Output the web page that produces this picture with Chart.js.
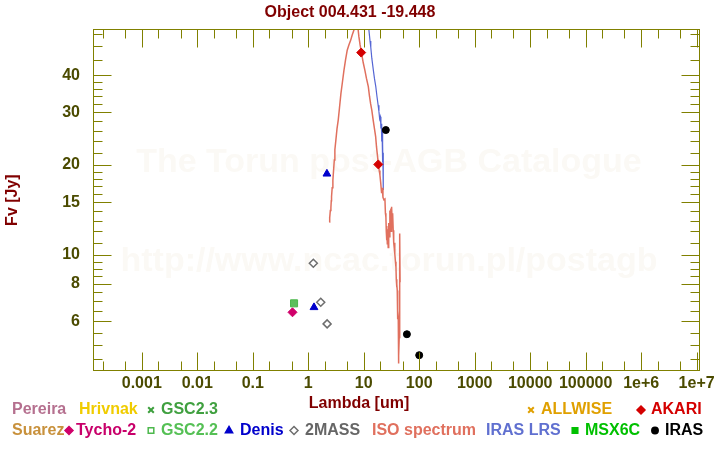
<!DOCTYPE html>
<html>
<head>
<meta charset="utf-8">
<script src="https://cdn.jsdelivr.net/npm/chart.js@4.4.1/dist/chart.umd.min.js"></script>
<style>
  body { margin: 0; background: #fff; }
  canvas { display: block; }
</style>
</head>
<body>
<canvas id="sedChart" width="720" height="450"></canvas>
<script>
// photometry, lambda in um, flux in Jy
const akariLambda = [9, 18.3]
const akariFlux = [47.6, 20.1]
const irasLambda = [25, 60, 100]
const irasFlux = [26.2, 5.43, 4.62]
const denisLambda = [1.27, 2.17]
const denisFlux = [6.68, 18.7]
const twomassLambda = [1.235, 1.68, 2.19]
const twomassFlux = [9.38, 6.95, 5.88]
const tychoLambda = [0.52]
const tychoFlux = [6.43]
const gsc22Lambda = [0.555]
const gsc22Flux = [6.89]
const gsc23Lambda = [0.555]
const gsc23Flux = [6.89]
const msxLambda = []
const msxFlux = []
const allwiseLambda = []
const allwiseFlux = []

// spectra
const isoLambda = [2.39, 2.41, 2.46, 2.5, 2.56, 2.6, 2.63, 2.7, 2.78, 2.86, 2.95, 3.02, 3.15, 3.3, 3.47, 3.65, 3.88, 4.1, 4.4, 4.7, 5.04, 5.4, 5.81, 6.2, 6.66, 7.0, 7.44, 7.8, 8.18, 8.6, 9.17, 9.8, 10.5, 11.2, 12.1, 12.7, 13.3, 14.0, 14.8, 15.6, 16.4, 17.0, 17.5, 18.2, 19.0, 19.6, 20.2, 21.0, 21.5, 22.2, 23.1, 24.1, 24.6, 25.1, 25.5, 25.8, 26.2, 26.6, 27.0, 27.6, 28.2, 28.8, 29.6, 30.2, 30.8, 31.3, 31.8, 32.5, 33.2, 34.0, 34.7, 35.4, 36.0, 36.6, 37.3, 38.1, 38.6, 39.2, 39.7, 40.2, 40.6, 40.9, 41.3, 41.9, 42.1, 42.4, 42.7, 43.1, 43.6, 44.0, 44.5, 44.9, 45.2]
const isoFlux = [12.9, 13.4, 13.3, 14.1, 14.4, 15.2, 15.7, 16.8, 17.8, 19.2, 20.8, 22.5, 24.3, 26.5, 28.3, 31.0, 34.7, 37.5, 41.5, 45.0, 48.5, 50.5, 52.3, 54.5, 56.6, 59.0, 60.0, 58.5, 53.8, 50.5, 47.2, 44.0, 41.5, 39.0, 36.6, 34.0, 32.1, 30.5, 28.3, 26.5, 24.9, 23.0, 21.9, 20.5, 19.2, 18.5, 17.5, 16.1, 16.8, 15.6, 15.3, 15.4, 13.8, 13.4, 12.0, 11.2, 12.5, 10.9, 12.2, 10.6, 12.8, 11.5, 14.1, 12.5, 14.3, 12.0, 14.5, 13.0, 13.8, 12.1, 11.0, 10.6, 11.0, 10.1, 9.5, 9.1, 8.3, 7.8, 8.0, 7.6, 6.8, 6.1, 6.5, 6.2, 5.0, 4.33, 5.2, 4.6, 5.3, 6.5, 9.0, 11.8, 8.1]
const lrsLambda = [11.0, 12.4, 13.0, 13.4, 14.0, 14.9, 15.6, 16.5, 17.3, 18.2, 18.8, 19.4, 20.0, 20.4, 20.8, 21.1, 21.4, 21.6, 21.8, 22.0, 22.2, 22.3, 22.4, 22.5, 22.6]
const lrsFlux = [66, 56.6, 52.0, 49.6, 45.5, 41.6, 39.0, 36.6, 34.0, 31.7, 30.2, 28.5, 29.0, 26.5, 27.5, 24.0, 26.0, 22.0, 25.5, 20.5, 23.5, 19.0, 22.0, 17.5, 16.5]

// axes
const xMin = 1.32e-4
const xMax = 1.15e7
const yMin = 4.09
const yMax = 57
const xMajorTicks = [1e-3, 1e-2, 0.1, 1, 10, 100, 1e3, 1e4, 1e5, 1e6, 1e7]
const xTickLabels = ['0.001', '0.01', '0.1', '1', '10', '100', '1000', '10000', '100000', '1e+6', '1e+7']
const xMinorTicks = [2e-4, 5e-4, 2e-3, 5e-3, 0.02, 0.05, 0.2, 0.5, 2, 5, 20, 50, 200, 500, 2e3, 5e3, 2e4, 5e4, 2e5, 5e5, 2e6, 5e6]
const yMajorTicks = [6, 8, 10, 15, 20, 30, 40]
const yTickLabels = ['6', '8', '10', '15', '20', '30', '40']
const yMinorTicks = [4.5, 5, 5.5, 6.5, 7, 7.5, 8.5, 9, 9.5, 11, 12, 13, 14, 16, 17, 18, 19, 22, 24, 26, 28, 32, 34, 36, 38, 45, 50, 55]

const fontFamily = "'Liberation Sans', Arial, sans-serif"
const olive = '#808000'
const tickText = '#4b4b00'
const maroon = '#800000'

const toPoints = (xs, ys) => xs.map((v, i) => ({ x: v, y: ys[i] }))

// where the legend entries sit (text x, marker x, row)
const legendLayout = [
  { label: 'Pereira', row: 0, tx: 12 },
  { label: 'Hrivnak', row: 0, tx: 79 },
  { label: 'GSC2.3', row: 0, tx: 161, mx: 151 },
  { label: 'ALLWISE', row: 0, tx: 541, mx: 531 },
  { label: 'AKARI', row: 0, tx: 651, mx: 641 },
  { label: 'Suarez', row: 1, tx: 12 },
  { label: 'Tycho-2', row: 1, tx: 76, mx: 69 },
  { label: 'GSC2.2', row: 1, tx: 161, mx: 151, open: true },
  { label: 'Denis', row: 1, tx: 240, mx: 229 },
  { label: '2MASS', row: 1, tx: 305, mx: 294, open: true },
  { label: 'ISO spectrum', row: 1, tx: 372 },
  { label: 'IRAS LRS', row: 1, tx: 486 },
  { label: 'MSX6C', row: 1, tx: 585, mx: 575 },
  { label: 'IRAS', row: 1, tx: 665, mx: 655 }
]
const legendRowY = [410, 430.5]

function drawMarker(ctx, style, x, y, r, fill, stroke) {
  ctx.beginPath()
  if (style === 'rectRot') {
    ctx.moveTo(x, y - r); ctx.lineTo(x + r, y); ctx.lineTo(x, y + r); ctx.lineTo(x - r, y); ctx.closePath()
  } else if (style === 'rect') {
    ctx.rect(x - r * 0.7, y - r * 0.7, r * 1.4, r * 1.4)
  } else if (style === 'triangle') {
    ctx.moveTo(x, y - r); ctx.lineTo(x + r * 0.9, y + r * 0.55); ctx.lineTo(x - r * 0.9, y + r * 0.55); ctx.closePath()
  } else if (style === 'circle') {
    ctx.arc(x, y, r * 0.8, 0, Math.PI * 2)
  } else if (style === 'crossRot') {
    ctx.moveTo(x - r * 0.7, y - r * 0.7); ctx.lineTo(x + r * 0.7, y + r * 0.7)
    ctx.moveTo(x + r * 0.7, y - r * 0.7); ctx.lineTo(x - r * 0.7, y + r * 0.7)
  }
  if (style !== 'crossRot' && fill) { ctx.fillStyle = fill; ctx.fill() }
  ctx.strokeStyle = stroke
  ctx.lineWidth = style === 'crossRot' ? 2 : 1.5
  ctx.stroke()
}

const watermark = {
  id: 'watermark',
  beforeDatasetsDraw(chart) {
    const ctx = chart.ctx
    ctx.save()
    ctx.fillStyle = '#fbf9f5'
    ctx.font = 'bold 34px ' + fontFamily
    ctx.textAlign = 'center'
    ctx.textBaseline = 'middle'
    ctx.fillText('The Torun post-AGB Catalogue', 389, 163)
    ctx.fillText('http://www.ncac.torun.pl/postagb', 389, 262)
    ctx.restore()
  }
}

const frameTicks = {
  id: 'frameTicks',
  afterDraw(chart) {
    const { ctx, chartArea: a, scales: { x, y } } = chart
    const L = Math.round(a.left) + 0.5, R = Math.round(a.right) - 0.5
    const T = Math.round(a.top) + 0.5, B = Math.round(a.bottom) - 0.5
    ctx.save()
    ctx.strokeStyle = olive
    ctx.lineWidth = 1
    ctx.beginPath()
    xMajorTicks.concat(xMinorTicks).forEach(v => {
      const px = Math.round(x.getPixelForValue(v)) + 0.5
      const len = xMajorTicks.includes(v) ? 18 : 9
      ctx.moveTo(px, B); ctx.lineTo(px, B - len)
      ctx.moveTo(px, T); ctx.lineTo(px, T + len)
    })
    yMajorTicks.concat(yMinorTicks).forEach(v => {
      const py = Math.round(y.getPixelForValue(v)) + 0.5
      const len = yMajorTicks.includes(v) ? 18 : 9
      ctx.moveTo(L, py); ctx.lineTo(L + len, py)
      ctx.moveTo(R, py); ctx.lineTo(R - len, py)
    })
    ctx.stroke()
    ctx.strokeRect(L, T, R - L, B - T)
    ctx.restore()
  }
}

const bottomLegend = {
  id: 'bottomLegend',
  afterDraw(chart) {
    const ctx = chart.ctx
    ctx.save()
    ctx.font = 'bold 16px ' + fontFamily
    ctx.textBaseline = 'middle'
    ctx.textAlign = 'center'
    ctx.fillStyle = maroon
    ctx.fillText('Lambda [um]', 359, 404)
    ctx.textAlign = 'left'
    legendLayout.forEach(item => {
      const ds = chart.data.datasets.find(d => d.label === item.label)
      const yy = legendRowY[item.row]
      if (item.mx && ds.pointStyle) {
        const fill = item.open ? null : ds.pointBackgroundColor
        drawMarker(ctx, ds.pointStyle, item.mx, yy, 4, fill, ds.pointBorderColor)
      }
      ctx.fillStyle = ds.textColor
      ctx.fillText(item.label, item.tx, yy)
    })
    ctx.restore()
  }
}

function pointSet(label, xs, ys, style, radius, fill, stroke, textColor, bw) {
  return {
    label,
    data: toPoints(xs, ys),
    pointStyle: style,
    pointRadius: radius,
    pointBackgroundColor: fill,
    pointBorderColor: stroke,
    pointBorderWidth: bw || 1,
    showLine: false,
    textColor,
    order: 1
  }
}

function emptySet(label, textColor) {
  return { label, data: [], textColor, showLine: false, pointRadius: 0, order: 1 }
}

const datasets = [
  emptySet('Pereira', '#b5708f'),
  emptySet('Hrivnak', '#f0cc00'),
  emptySet('Suarez', '#c8913c'),
  pointSet('Tycho-2', tychoLambda, tychoFlux, 'rectRot', 4.5, '#d0006a', '#d0006a', '#c8006a'),
  pointSet('GSC2.2', gsc22Lambda, gsc22Flux, 'rect', 5, '#5cbf5c', '#4cb84c', '#55c055'),
  pointSet('GSC2.3', gsc23Lambda, gsc23Flux, 'crossRot', 4, '#3c9f3c', '#3c9f3c', '#40a040', 1.5),
  pointSet('Denis', denisLambda, denisFlux, 'triangle', 4.5, '#0000cc', '#0000cc', '#0000cc'),
  pointSet('2MASS', twomassLambda, twomassFlux, 'rectRot', 4, '#fff', '#6e6e6e', '#666666', 1.5),
  {
    label: 'ISO spectrum',
    data: toPoints(isoLambda, isoFlux),
    showLine: true,
    borderColor: '#e0705e',
    borderWidth: 1.5,
    pointRadius: 0,
    textColor: '#e0705e',
    order: 2
  },
  {
    label: 'IRAS LRS',
    data: toPoints(lrsLambda, lrsFlux),
    showLine: true,
    borderColor: '#5566d4',
    borderWidth: 1.2,
    pointRadius: 0,
    textColor: '#6070d0',
    order: 2
  },
  pointSet('MSX6C', msxLambda, msxFlux, 'rect', 5, '#00c000', '#00c000', '#00c000'),
  pointSet('IRAS', irasLambda, irasFlux, 'circle', 3.5, '#000', '#000', '#000'),
  pointSet('ALLWISE', allwiseLambda, allwiseFlux, 'crossRot', 4, '#e0a000', '#e0a000', '#e0a000', 1.5),
  pointSet('AKARI', akariLambda, akariFlux, 'rectRot', 4.5, '#d40000', '#d40000', '#d40000')
]

addEventListener('DOMContentLoaded', () => {
  const ctx = document.getElementById('sedChart')

  new Chart(ctx, {
    type: 'scatter',
    data: { datasets },
    plugins: [watermark, frameTicks, bottomLegend],
    options: {
      responsive: false,
      animation: false,
      events: [],
      layout: { padding: { left: 0, right: 20, top: 0, bottom: 0 } },
      plugins: {
        legend: { display: false },
        tooltip: { enabled: false },
        title: {
          display: true,
          text: 'Object 004.431 -19.448',
          color: maroon,
          font: { family: fontFamily, size: 16, weight: 'bold' },
          padding: { top: 3, bottom: 7 }
        }
      },
      scales: {
        x: {
          type: 'logarithmic',
          position: 'bottom',
          min: xMin,
          max: xMax,
          grid: { display: false },
          border: { display: false },
          ticks: {
            autoSkip: false,
            maxRotation: 0,
            padding: -5,
            color: tickText,
            font: { family: fontFamily, size: 16, weight: 'bold' },
            callback: (value) => {
              const i = xMajorTicks.indexOf(value)
              return i >= 0 ? xTickLabels[i] : ''
            }
          },
          afterBuildTicks: (axis) => {
            axis.ticks = xMajorTicks.concat(xMinorTicks).sort((a, b) => a - b).map(v => ({ value: v }))
          },
          afterFit: (axis) => { axis.height = 79 }
        },
        y: {
          type: 'logarithmic',
          position: 'left',
          min: yMin,
          max: yMax,
          grid: { display: false },
          border: { display: false },
          title: {
            display: true,
            text: 'Fv [Jy]',
            color: maroon,
            font: { family: fontFamily, size: 16, weight: 'bold' },
            padding: { top: 2.5, bottom: 0 }
          },
          ticks: {
            autoSkip: false,
            padding: 5,
            color: tickText,
            font: { family: fontFamily, size: 16, weight: 'bold' },
            callback: (value) => {
              const i = yMajorTicks.indexOf(value)
              return i >= 0 ? yTickLabels[i] : ''
            }
          },
          afterBuildTicks: (axis) => {
            axis.ticks = yMajorTicks.concat(yMinorTicks).sort((a, b) => a - b).map(v => ({ value: v }))
          },
          afterFit: (axis) => { axis.width = 93 }
        }
      }
    }
  })
})
</script>
</body>
</html>
